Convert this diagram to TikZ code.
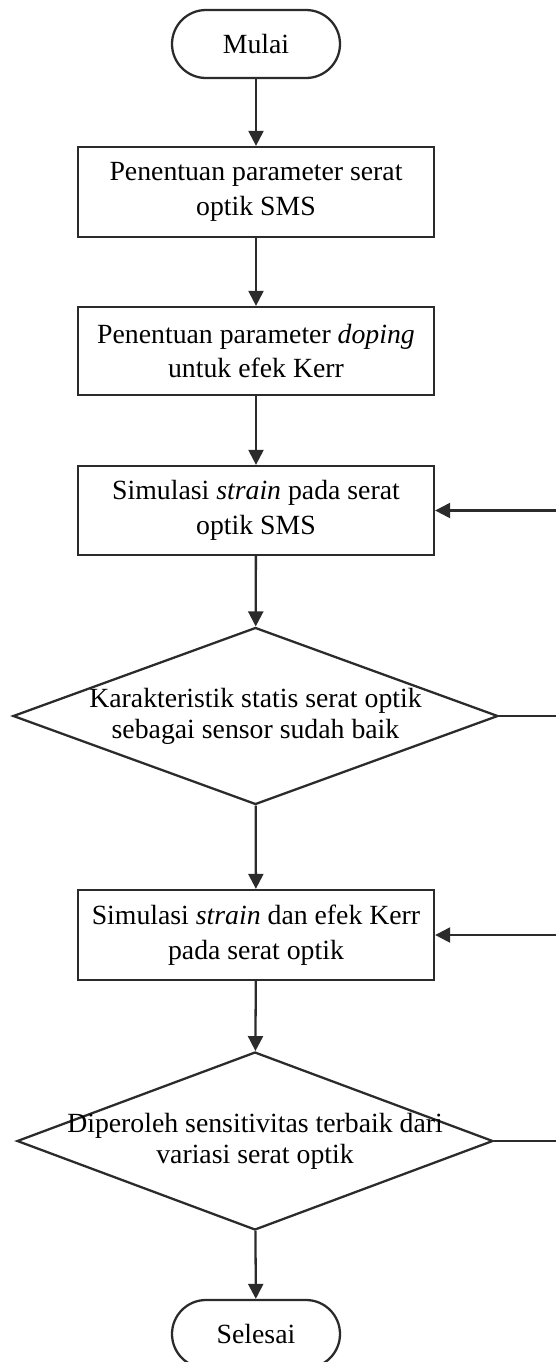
\documentclass[tikz,border=0pt]{standalone}
\usepackage{fontspec}
\setmainfont{Liberation Serif}
\usepackage{xcolor}
\usepackage{tikz}
\usetikzlibrary{positioning,shapes,shapes.geometric,arrows.meta,calc}
\definecolor{ink}{HTML}{2B2B2B}
\tikzset{
    block/.style={rectangle, draw=ink, line width=1.3pt, minimum width=7.12cm, minimum height=1.8cm, align=center, font=\fontsize{15.8}{19.9}\selectfont},
    terminal/.style={rectangle, draw=ink, line width=1.3pt, rounded corners=0.68cm, minimum width=3.36cm, minimum height=1.36cm, font=\fontsize{15.8}{19.9}\selectfont},
    decision/.style={diamond, draw=ink, line width=1.3pt, aspect=2.74, inner sep=-0.6cm, align=center, font=\fontsize{15.8}{17.5}\selectfont},
    arrow/.style={-{Triangle[length=0.3cm, width=0.3cm]}, line width=1.3pt, color=ink}
}
\begin{document}
\begin{tikzpicture}
\useasboundingbox (0,0) rectangle (11.12,-27.24);
\clip (0,0) rectangle (11.12,-27.24);
\node[terminal] (start) at (5.12,-0.88) {Mulai};
\node[block] (param) at (5.12,-3.84) {Penentuan parameter serat\\optik SMS};
\node[block, minimum height=1.76cm] (doping) at (5.12,-7.02) {Penentuan parameter \textit{doping}\\untuk efek Kerr};
\node[block, minimum height=1.78cm] (simstrain) at (5.12,-10.21) {Simulasi \textit{strain} pada serat\\optik SMS};
\node[decision, minimum width=9.7cm, minimum height=3.54cm] (cekstatis) at (5.11,-14.32) {Karakteristik statis serat optik\\sebagai sensor sudah baik};
\node[block] (simkerr) at (5.12,-18.7) {Simulasi \textit{strain} dan efek Kerr\\pada serat optik};
\node[decision, minimum width=9.52cm, minimum height=3.56cm] (cekbest) at (5.1,-22.82) {Diperoleh sensitivitas terbaik dari\\variasi serat optik};
\node[terminal] (stop) at (5.12,-26.68) {Selesai};
\coordinate (loopx) at (11.4,0);
\draw[arrow] (start) -- (param);
\draw[arrow] (param) -- (doping);
\draw[arrow] (doping) -- (simstrain);
\draw[arrow] (simstrain) -- (cekstatis);
\draw[arrow] (cekstatis) -- (simkerr);
\draw[arrow] (simkerr) -- (cekbest);
\draw[arrow] (cekbest) -- (stop);
\draw[arrow] (cekstatis.east) -- (cekstatis.east -| loopx) |- (simstrain.east);
\draw[arrow] (cekbest.east) -- (cekbest.east -| loopx) |- (simkerr.east);
\end{tikzpicture}
\end{document}
